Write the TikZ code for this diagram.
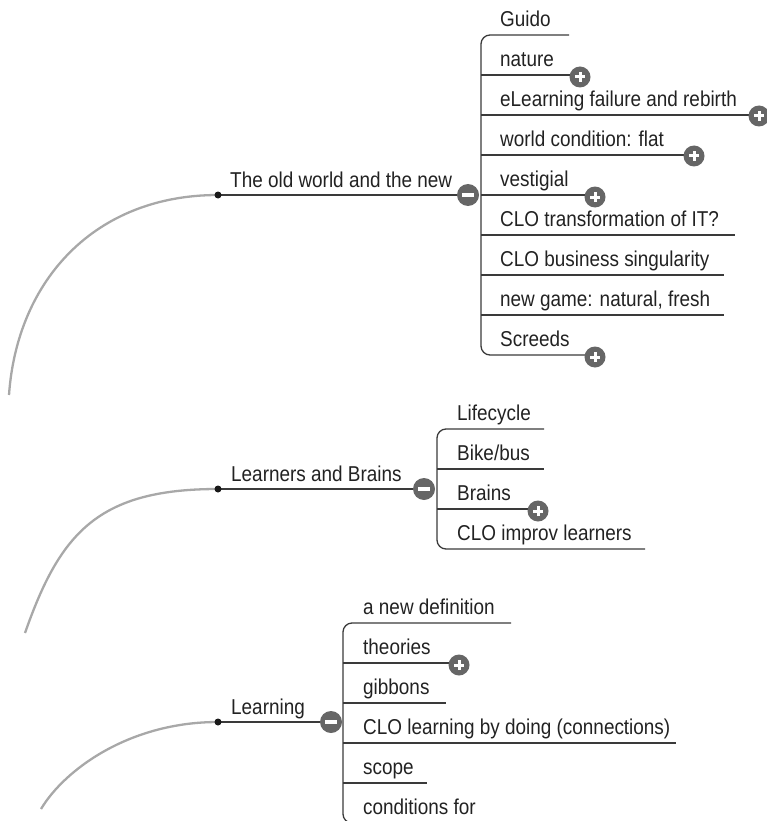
\documentclass[tikz,border=0pt]{standalone}
\usepackage{fontspec}
\setmainfont{Liberation Sans}[FakeStretch=0.88]
\definecolor{textc}{HTML}{222222}
\definecolor{linec}{HTML}{3A3A3A}
\definecolor{arcc}{HTML}{A8A8A8}
\definecolor{btn}{HTML}{666666}
\tikzset{
  txt/.style={anchor=base west, inner sep=0pt, font=\fontsize{21.5}{24}\selectfont, text=textc},
  branch/.style={draw=linec, line width=1.3pt},
  arcline/.style={draw=arcc, line width=2.3pt},
  hub/.style={circle, fill=black!90, minimum size=7pt, inner sep=0pt},
  togglebtn/.style={circle, fill=btn, minimum size=21pt, inner sep=0pt},
  plusbtn/.style={togglebtn, path picture={
    \draw[white, line width=3pt] ([xshift=-5pt]path picture bounding box.center) -- ([xshift=5pt]path picture bounding box.center);
    \draw[white, line width=3pt] ([yshift=-5pt]path picture bounding box.center) -- ([yshift=5pt]path picture bounding box.center);}},
  minusbtn/.style={togglebtn, minimum size=22pt, path picture={
    \draw[white, line width=3.2pt] ([xshift=-6pt]path picture bounding box.center) -- ([xshift=6pt]path picture bounding box.center);}},
}
\begin{document}
\begin{tikzpicture}[x=1pt, y=-1pt]
\useasboundingbox (0,0) rectangle (767,821);
\clip (0,0) rectangle (767,821);

%% ---------- Group 1: The old world and the new ----------
\coordinate (h1) at (218,195);
\coordinate (a1) at (9,395);
\coordinate (b1t) at (481,35);
\coordinate (b1b) at (481,355);
\draw[arcline] (h1) .. controls (95,195) and (17,280) .. (a1);
\node[minusbtn] (m1) at (468,195) {};
\draw[branch] (h1) -- (m1);
\node[txt] (p1) at (230,187) {The old world and the new};

\coordinate (e1a) at (569,35);
\coordinate (e1b) at (595,355);
\draw[branch, rounded corners=9pt] (e1a) -- (b1t) -- (b1b) -- (e1b);
\foreach \y/\xe/\nm in {75/580/c12, 115/759/c13, 155/694/c14, 195/595/c15, 235/735/c16, 275/724/c17, 315/724/c18}{
  \coordinate (\nm s) at (481,\y);
  \coordinate (\nm e) at (\xe,\y);
  \draw[branch] (\nm s) -- (\nm e);
}
\node[plusbtn] (x12) at (580,77) {};
\node[plusbtn] (x13) at (759,116) {};
\node[plusbtn] (x14) at (694,156) {};
\node[plusbtn] (x15) at (595,197) {};
\node[plusbtn] (x19) at (595,357) {};

\node[txt] (t11) at (500,26.5) {Guido};
\node[txt] (t12) at (500,66.5) {nature};
\node[txt] (t13) at (500,106.5) {eLearning failure and rebirth};
\node[txt] (t14) at (500,146.5) {world condition: flat};
\node[txt] (t15) at (500,186.5) {vestigial};
\node[txt] (t16) at (500,226.5) {CLO transformation of IT?};
\node[txt] (t17) at (500,266.5) {CLO business singularity};
\node[txt] (t18) at (500,306.5) {new game: natural, fresh};
\node[txt] (t19) at (500,346.5) {Screeds};
\node[hub] (d1) at (h1) {};

%% ---------- Group 2: Learners and Brains ----------
\coordinate (h2) at (218,489);
\coordinate (a2) at (25,633);
\coordinate (b2t) at (437,429);
\coordinate (b2b) at (437,549);
\draw[arcline] (h2) .. controls (98,489) and (60,533) .. (a2);
\node[minusbtn] (m2) at (424,489) {};
\draw[branch] (h2) -- (m2);
\node[txt] (p2) at (231,481) {Learners and Brains};

\coordinate (e2a) at (544,429);
\coordinate (e2b) at (645,549);
\draw[branch, rounded corners=9pt] (e2a) -- (b2t) -- (b2b) -- (e2b);
\foreach \y/\xe/\nm in {469/544/c22, 509/538/c23}{
  \coordinate (\nm s) at (437,\y);
  \coordinate (\nm e) at (\xe,\y);
  \draw[branch] (\nm s) -- (\nm e);
}
\node[plusbtn] (x23) at (538,511) {};

\node[txt] (t21) at (457,420.5) {Lifecycle};
\node[txt] (t22) at (457,460.5) {Bike/bus};
\node[txt] (t23) at (457,500.5) {Brains};
\node[txt] (t24) at (457,540.5) {CLO improv learners};
\node[hub] (d2) at (h2) {};

%% ---------- Group 3: Learning ----------
\coordinate (h3) at (218,722);
\coordinate (a3) at (41,809);
\coordinate (b3t) at (343,623);
\coordinate (b3b) at (343,823);
\draw[arcline] (h3) .. controls (130,722) and (65,769) .. (a3);
\node[minusbtn] (m3) at (331,722) {};
\draw[branch] (h3) -- (m3);
\node[txt] (p3) at (231,714) {Learning};

\coordinate (e3a) at (511,623);
\coordinate (e3b) at (495,823);
\draw[branch, rounded corners=9pt] (e3a) -- (b3t) -- (b3b) -- (e3b);
\foreach \y/\xe/\nm in {663/459/c32, 703/446/c33, 743/676/c34, 783/427/c35}{
  \coordinate (\nm s) at (343,\y);
  \coordinate (\nm e) at (\xe,\y);
  \draw[branch] (\nm s) -- (\nm e);
}
\node[plusbtn] (x32) at (459,665) {};

\node[txt] (t31) at (363,614.5) {a new definition};
\node[txt] (t32) at (363,654.5) {theories};
\node[txt] (t33) at (363,694.5) {gibbons};
\node[txt] (t34) at (363,734.5) {CLO learning by doing (connections)};
\node[txt] (t35) at (363,774.5) {scope};
\node[txt] (t36) at (363,814.5) {conditions for};
\node[hub] (d3) at (h3) {};
\end{tikzpicture}
\end{document}
